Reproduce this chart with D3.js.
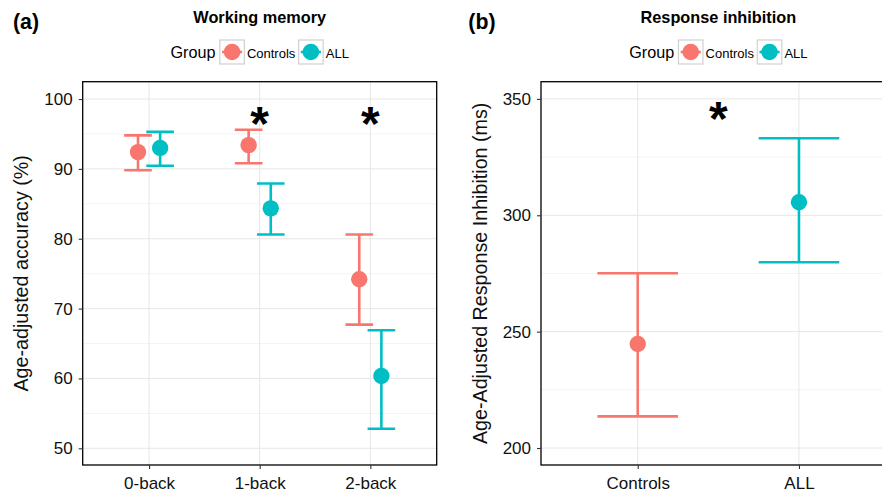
<!DOCTYPE html>
<html>
<head>
<meta charset="utf-8">
<script src="https://cdn.jsdelivr.net/npm/d3@7/dist/d3.min.js"></script>
<style>
  body { margin: 0; background: #fff; }
  svg { display: block; font-family: "Liberation Sans", Arial, Helvetica, sans-serif; }
</style>
</head>
<body>
<script>
// Groups shared by both panels
const groups = ["Controls", "ALL"];

// (a) Working memory: age-adjusted accuracy (%)
const wmTasks = ["0-back", "1-back", "2-back"];
const wmControlsMean = [92.4, 93.4, 74.2];
const wmControlsLow = [89.8, 90.8, 67.7];
const wmControlsHigh = [94.8, 95.6, 80.6];
const wmAllMean = [93.0, 84.35, 60.35];
const wmAllLow = [90.45, 80.6, 52.8];
const wmAllHigh = [95.3, 87.9, 66.9];
const wmTicks = [50, 60, 70, 80, 90, 100];
const wmMinor = [55, 65, 75, 85, 95];
const wmStarTasks = ["1-back", "2-back"];
const wmStarValue = 97.3;

// (b) Response inhibition (ms)
const riMean = [244.7, 305.6];
const riLow = [213.6, 279.8];
const riHigh = [275.1, 333.1];
const riTicks = [200, 250, 300, 350];
const riMinor = [225, 275, 325];
const riStarValue = 344.1;

const color = d3.scaleOrdinal().domain(groups).range(["#F8766D", "#00BFC4"]);

const W = 882, H = 494;
const svg = d3.select("body").append("svg")
    .attr("width", W)
    .attr("height", H);

svg.append("rect").attr("width", W).attr("height", H).attr("fill", "#fff");

const panelTop = 81.7, panelBottom = 465;

function drawPanel(p) {
  const g = svg.append("g");

  const x = d3.scalePoint().domain(p.categories).range([p.left, p.right]).padding(0.6);
  const y = d3.scaleLinear().domain(p.yDomain).range([panelBottom, panelTop]);
  const step = x.step();
  const cx = (p.left + p.right) / 2;

  // clip everything inside the panel
  const clipId = "clip-" + p.id;
  svg.append("clipPath").attr("id", clipId)
    .append("rect")
    .attr("x", p.left).attr("y", panelTop)
    .attr("width", p.right - p.left).attr("height", panelBottom - panelTop);

  const inner = g.append("g").attr("clip-path", `url(#${clipId})`);

  // minor and major grid
  inner.selectAll(".minor").data(p.minor).enter().append("line")
    .attr("x1", p.left).attr("x2", p.right)
    .attr("y1", d => y(d)).attr("y2", d => y(d))
    .attr("stroke", "#f3f3f3").attr("stroke-width", 1);
  inner.selectAll(".major").data(p.ticks).enter().append("line")
    .attr("x1", p.left).attr("x2", p.right)
    .attr("y1", d => y(d)).attr("y2", d => y(d))
    .attr("stroke", "#e6e6e6").attr("stroke-width", 1);
  inner.selectAll(".vgrid").data(p.categories).enter().append("line")
    .attr("x1", d => x(d)).attr("x2", d => x(d))
    .attr("y1", panelTop).attr("y2", panelBottom)
    .attr("stroke", "#e6e6e6").attr("stroke-width", 1);

  // error bars and points
  const pos = d => x(d.cat) + d.dodge * step;
  const half = p.capWidth * step / 2;

  const bars = inner.selectAll(".bar").data(p.rows).enter().append("g")
    .attr("stroke", d => color(d.group))
    .attr("stroke-width", 2.6);
  bars.append("line")
    .attr("x1", pos).attr("x2", pos)
    .attr("y1", d => y(d.low)).attr("y2", d => y(d.high));
  bars.append("line")
    .attr("x1", d => pos(d) - half).attr("x2", d => pos(d) + half)
    .attr("y1", d => y(d.high)).attr("y2", d => y(d.high));
  bars.append("line")
    .attr("x1", d => pos(d) - half).attr("x2", d => pos(d) + half)
    .attr("y1", d => y(d.low)).attr("y2", d => y(d.low));

  inner.selectAll(".pt").data(p.rows).enter().append("circle")
    .attr("cx", pos).attr("cy", d => y(d.mean))
    .attr("r", 8.2)
    .attr("fill", d => color(d.group));

  // significance stars
  const starSize = 48;
  inner.selectAll(".star").data(p.stars).enter().append("text")
    .attr("x", d => d.x(x))
    .attr("y", d => y(d.v) + starSize * 0.47)
    .attr("text-anchor", "middle")
    .style("font-size", starSize + "px")
    .style("font-weight", "bold")
    .text("*");

  // panel border
  g.append("rect")
    .attr("x", p.left).attr("y", panelTop)
    .attr("width", p.right - p.left).attr("height", panelBottom - panelTop)
    .attr("fill", "none").attr("stroke", "#000").attr("stroke-width", 1.3);

  // axes
  const yAxis = g.append("g")
    .attr("transform", `translate(${p.left},0)`)
    .call(d3.axisLeft(y).tickValues(p.ticks).tickSize(4).tickPadding(6));
  const xAxis = g.append("g")
    .attr("transform", `translate(0,${panelBottom})`)
    .call(d3.axisBottom(x).tickSize(4).tickPadding(8));
  [yAxis, xAxis].forEach(a => {
    a.select(".domain").remove();
    a.selectAll(".tick line").attr("stroke", "#333").attr("stroke-width", 1.1);
    a.selectAll(".tick text")
      .attr("fill", "#111")
      .style("font-size", "17px")
      .style("font-family", "Liberation Sans, Arial, sans-serif");
  });
  xAxis.selectAll(".tick text").attr("dy", "0.71em");

  // y axis title
  g.append("text")
    .attr("transform", `translate(${p.left - 54.5},${(panelTop + panelBottom) / 2}) rotate(-90)`)
    .attr("text-anchor", "middle")
    .style("font-size", "19.7px")
    .attr("fill", "#111")
    .text(p.yTitle);

  // panel title and tag
  g.append("text")
    .attr("x", cx).attr("y", 23.3)
    .attr("text-anchor", "middle")
    .style("font-size", "16.3px")
    .style("font-weight", "bold")
    .text(p.title);
  g.append("text")
    .attr("x", p.tagX).attr("y", 29)
    .style("font-size", "21.3px")
    .style("font-weight", "bold")
    .text(p.tag);

  // legend
  const leg = g.append("g");
  let lx = 0;
  const gt = leg.append("text").attr("x", 0).attr("y", 58.3)
    .style("font-size", "16.2px").text("Group");
  lx = gt.node().getComputedTextLength() + 4.3;
  groups.forEach((grp, i) => {
    const k = leg.append("g").attr("transform", `translate(${lx},40)`);
    k.append("rect").attr("width", 24.5).attr("height", 24)
      .attr("fill", "#fff").attr("stroke", "#d0d0d0").attr("stroke-width", 1.2);
    k.append("line").attr("x1", 2.2).attr("x2", 22.3).attr("y1", 12).attr("y2", 12)
      .attr("stroke", color(grp)).attr("stroke-width", 2.6);
    k.append("circle").attr("cx", 12.25).attr("cy", 12).attr("r", 8.3).attr("fill", color(grp));
    lx += 24.5 + 2.6;
    const t = leg.append("text").attr("x", lx).attr("y", 57.5)
      .style("font-size", "13px").text(grp);
    lx += t.node().getComputedTextLength() + (i === 0 ? 3.3 : 0);
  });
  leg.attr("transform", `translate(${cx - lx / 2},0)`);
}

// (a) rows with dodge
const wmRows = [];
wmTasks.forEach((t, i) => {
  wmRows.push({ cat: t, group: "Controls", dodge: -0.1, mean: wmControlsMean[i], low: wmControlsLow[i], high: wmControlsHigh[i] });
  wmRows.push({ cat: t, group: "ALL", dodge: 0.1, mean: wmAllMean[i], low: wmAllLow[i], high: wmAllHigh[i] });
});

drawPanel({
  id: "a",
  left: 82.7, right: 436.7,
  categories: wmTasks,
  rows: wmRows,
  capWidth: 0.25,
  yDomain: [47.61, 102.48],
  ticks: wmTicks,
  minor: wmMinor,
  stars: wmStarTasks.map(t => ({ x: x => x(t), v: wmStarValue })),
  yTitle: "Age-adjusted accuracy (%)",
  title: "Working memory",
  tag: "(a)", tagX: 13
});

// (b) rows, one per group
const riRows = groups.map((grp, i) => ({ cat: grp, group: grp, dodge: 0, mean: riMean[i], low: riLow[i], high: riHigh[i] }));

drawPanel({
  id: "b",
  left: 541, right: 895.7,
  categories: groups,
  rows: riRows,
  capWidth: 0.5,
  yDomain: [192.7, 357.4],
  ticks: riTicks,
  minor: riMinor,
  stars: [{ x: x => (x(groups[0]) + x(groups[1])) / 2, v: riStarValue }],
  yTitle: "Age-Adjusted Response Inhibition (ms)",
  title: "Response inhibition",
  tag: "(b)", tagX: 468.3
});
</script>
</body>
</html>
